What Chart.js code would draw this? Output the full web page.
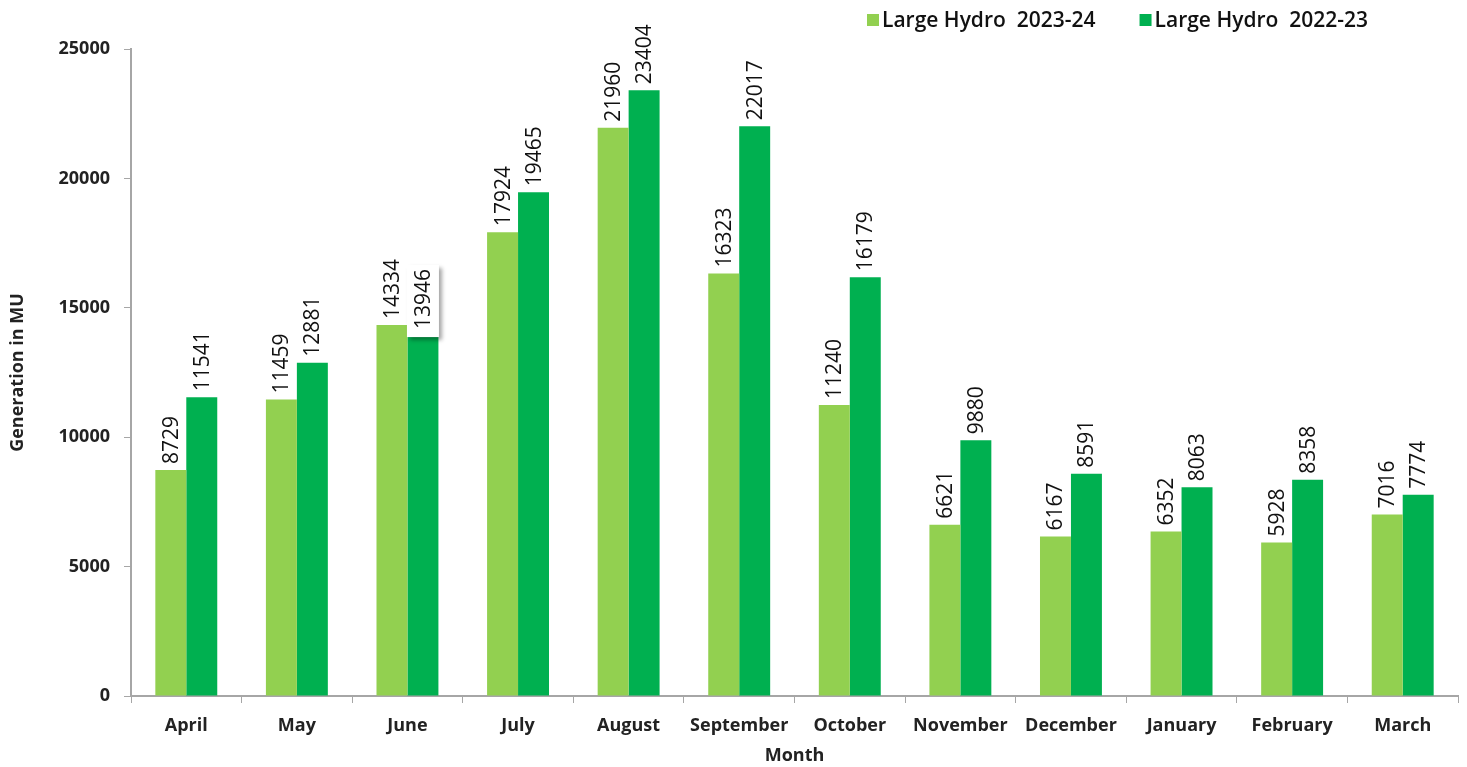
<!DOCTYPE html>
<html>
<head>
<meta charset="utf-8">
<script src="https://cdn.jsdelivr.net/npm/chart.js@4/dist/chart.umd.min.js"></script>
<style>
  html, body { margin: 0; padding: 0; background: #fff; }
  #wrap { width: 1467px; height: 767px; }
</style>
</head>
<body>
<div id="wrap"><canvas id="chart"></canvas></div>
<script>
const months = ['April', 'May', 'June', 'July', 'August', 'September', 'October', 'November', 'December', 'January', 'February', 'March'];
const hydro2324 = [8729, 11459, 14334, 17924, 21960, 16323, 11240, 6621, 6167, 6352, 5928, 7016];
const hydro2223 = [11541, 12881, 13946, 19465, 23404, 22017, 16179, 9880, 8591, 8063, 8358, 7774];
const yTicks = [0, 5000, 10000, 15000, 20000, 25000];

const FONT = "'Open Sans', sans-serif";
const AXIS = '#a6a6a6';

// rotated value labels with a white box behind them
const valueLabels = {
    id: 'valueLabels',
    afterDatasetsDraw(chart) {
        const ctx = chart.ctx;
        ctx.save();
        ctx.font = '21px ' + FONT;
        chart.data.datasets.forEach((ds, di) => {
            chart.getDatasetMeta(di).data.forEach((bar, i) => {
                const txt = String(ds.data[i]);
                const w = ctx.measureText(txt).width;
                ctx.save();
                ctx.translate(bar.x, bar.y - 6);
                ctx.rotate(-Math.PI / 2);
                // the June 2022-23 label sits in a shadowed box in the original
                if (di === 1 && i === 2) {
                    ctx.shadowColor = 'rgba(0,0,0,0.35)';
                    ctx.shadowBlur = 4;
                    ctx.shadowOffsetX = 3;
                    ctx.shadowOffsetY = 3;
                    ctx.fillStyle = '#fff';
                    ctx.fillRect(-8, -16, w + 12, 32);
                    ctx.shadowColor = 'transparent';
                } else {
                    ctx.fillStyle = '#fff';
                    ctx.fillRect(-2, -13, w + 4, 26);
                }
                ctx.fillStyle = '#111';
                ctx.textAlign = 'left';
                ctx.textBaseline = 'middle';
                ctx.fillText(txt, 0, 1);
                ctx.restore();
            });
        });
        ctx.restore();
    }
};

// legend drawn at the top right, like the original
const topLegend = {
    id: 'topLegend',
    afterDraw(chart) {
        const ctx = chart.ctx;
        ctx.save();
        ctx.font = '600 21px ' + FONT;
        ctx.textBaseline = 'middle';
        let x = 867;
        const y = 20;
        chart.data.datasets.forEach(ds => {
            ctx.fillStyle = ds.backgroundColor;
            ctx.fillRect(x, y - 6, 12, 12);
            ctx.fillStyle = '#111';
            ctx.fillText(ds.label, x + 15, y + 1);
            x += 15 + ctx.measureText(ds.label).width + 44;
        });
        ctx.restore();
    }
};

new Chart(document.getElementById('chart'), {
    type: 'bar',
    data: {
        labels: months,
        datasets: [{
            label: 'Large Hydro  2023-24',
            data: hydro2324,
            backgroundColor: '#92d050',
            categoryPercentage: 0.56,
            barPercentage: 1
        }, {
            label: 'Large Hydro  2022-23',
            data: hydro2223,
            backgroundColor: '#00b050',
            categoryPercentage: 0.56,
            barPercentage: 1
        }]
    },
    options: {
        responsive: true,
        maintainAspectRatio: false,
        animation: false,
        layout: { padding: { top: 49, right: 9, left: 0, bottom: 0 } },
        plugins: {
            legend: { display: false },
            tooltip: { enabled: false }
        },
        scales: {
            x: {
                offset: true,
                grid: { display: true, drawOnChartArea: false, offset: true, color: AXIS, tickLength: 7 },
                border: { color: AXIS, width: 2 },
                ticks: { color: '#222', font: { family: FONT, size: 18, weight: 'bold' }, padding: 12 },
                title: { display: true, text: 'Month', color: '#222', font: { family: FONT, size: 18, weight: 'bold' }, padding: { top: 0, bottom: 0 } },
                afterFit(scale) { scale.height = 71; }
            },
            y: {
                min: 0,
                max: 25000,
                afterBuildTicks(scale) { scale.ticks = yTicks.map(v => ({ value: v })); },
                grid: { display: true, drawOnChartArea: false, color: AXIS, tickLength: 7 },
                border: { color: AXIS, width: 2 },
                ticks: { color: '#222', font: { family: FONT, size: 18, weight: 'bold' }, padding: 14, callback: v => String(v) },
                title: { display: true, text: 'Generation in MU', color: '#222', font: { family: FONT, size: 18, weight: 'bold' }, padding: { top: 7, bottom: 0 } },
                afterFit(scale) { scale.width = 131; }
            }
        }
    },
    plugins: [valueLabels, topLegend]
});
</script>
</body>
</html>
